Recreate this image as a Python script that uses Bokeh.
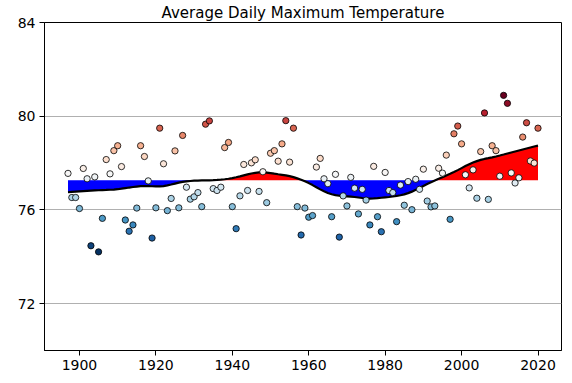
import numpy as np
from bokeh.plotting import figure
from bokeh.models import FixedTicker, ColumnDataSource
from bokeh.transform import linear_cmap
from bokeh.embed import file_html
from bokeh.resources import INLINE

title_text = "Average Daily Maximum Temperature"
years = list(range(1897, 2021))
temps = [
    77.56, 76.53, 76.53, 76.06, 77.77, 77.33, 74.47, 77.41, 74.21, 75.64,   # 1897-1906
    78.15, 77.54, 78.53, 78.74, 77.85, 75.57, 75.09, 75.36, 76.08, 78.74,   # 1907-1916
    78.28, 77.24, 74.80, 76.09, 79.49, 77.97, 75.97, 76.49, 78.52, 76.09,   # 1917-1926
    79.18, 76.97, 76.46, 76.56, 76.74, 76.14, 79.66, 79.80, 76.91, 76.83,   # 1927-1936
    76.97, 78.66, 78.88, 76.14, 75.20, 76.60, 77.94, 76.83, 78.01, 78.14,   # 1937-1946
    76.79, 77.63, 76.31, 78.42, 78.53, 78.08, 78.82, 79.81, 78.04, 79.49,   # 1947-1956
    76.14, 74.93, 76.08, 75.69, 75.76, 77.83, 78.20, 77.33, 77.12, 75.71,   # 1957-1966
    77.52, 74.84, 76.60, 76.17, 77.39, 76.93, 75.83, 76.88, 76.42, 75.36,   # 1967-1976
    77.86, 75.71, 75.07, 77.60, 76.83, 76.74, 75.50, 77.06, 76.20, 77.21,   # 1977-1986
    76.01, 77.31, 76.88, 77.74, 76.38, 76.13, 76.17, 77.78, 77.57, 78.34,   # 1987-1996
    75.60, 79.25, 79.58, 78.82, 77.50, 76.94, 77.71, 76.50, 78.49, 80.14,   # 1997-2006
    76.45, 78.74, 78.53, 77.44, 80.89, 80.55, 77.58, 77.15, 77.37, 79.11,   # 2007-2016
    79.72, 78.09, 78.00, 79.49,                                             # 2017-2020
]
x_ticks = [1900, 1920, 1940, 1960, 1980, 2000, 2020]
y_ticks = [72, 76, 80, 84]
assert len(years) == len(temps)

# RdBu (ColorBrewer) stops, reversed so low = blue
rdbu = ["#67001f", "#b2182b", "#d6604d", "#f4a582", "#fddbc7", "#f7f7f7",
        "#d1e5f0", "#92c5de", "#4393c3", "#2166ac", "#053061"]
stops = np.array([[int(c[i:i + 2], 16) for i in (1, 3, 5)] for c in rdbu[::-1]], float)
t = np.linspace(0, 1, 256)
pos = np.linspace(0, 1, len(stops))
palette = ["#%02x%02x%02x" % tuple(int(round(np.interp(tt, pos, stops[:, k]))) for k in range(3)) for tt in t]


def lowess(x, y, frac=0.25, it=3):
    n = len(x)
    k = int(np.ceil(frac * n))
    d = np.abs(x[:, None] - x[None, :])
    h = np.sort(d, axis=1)[:, k - 1]
    w = np.clip(d / h[:, None], 0, 1)
    w = (1 - w ** 3) ** 3
    delta = np.ones(n)
    yest = np.zeros(n)
    for _ in range(it + 1):
        for i in range(n):
            ww = w[i] * delta
            sw = ww.sum()
            mx = (ww * x).sum() / sw
            my = (ww * y).sum() / sw
            b = (ww * (x - mx) * (y - my)).sum() / (ww * (x - mx) ** 2).sum()
            yest[i] = my + b * (x[i] - mx)
        res = y - yest
        s = np.median(np.abs(res))
        dd = np.clip(res / (6 * s), -1, 1)
        delta = (1 - dd ** 2) ** 2
    return yest


xa = np.array(years, float)
ya = np.array(temps, float)
smooth = lowess(xa, ya, 0.24, 3)
mean = ya.mean()

src = ColumnDataSource(dict(x=xa, y=ya))
fill_src = ColumnDataSource(dict(
    x=xa, s=smooth, m=np.full_like(xa, mean),
    hi=np.maximum(smooth, mean), lo=np.minimum(smooth, mean)))

FONT = "DejaVu Sans"
p = figure(width=564, height=375, x_range=(1890.85, 2026.15), y_range=(70, 84),
           output_backend="svg", toolbar_location=None, title=title_text,
           min_border_left=44, min_border_right=3, min_border_top=0, min_border_bottom=25)
p.title.text_font = FONT
p.title.text_font_size = "15px"
p.title.text_font_style = "normal"
p.title.text_color = "black"
p.title.align = "center"
p.title.standoff = 2
p.title.offset = 0
p.background_fill_color = "white"
p.border_fill_color = "white"
p.outline_line_color = "black"
p.outline_line_width = 1

p.varea(x="x", y1="m", y2="hi", source=fill_src, fill_color="#ff0000")
p.varea(x="x", y1="lo", y2="m", source=fill_src, fill_color="#0000ff")
p.line(x="x", y="s", source=fill_src, line_color="black", line_width=2.2)
p.scatter(x="x", y="y", source=src, size=6.3, line_color="black", line_width=0.8,
          fill_color=linear_cmap("y", palette, float(ya.min()), float(ya.max())))

p.xaxis.ticker = FixedTicker(ticks=x_ticks)
p.yaxis.ticker = FixedTicker(ticks=y_ticks)
for ax in (p.xaxis, p.yaxis):
    ax.axis_line_color = "black"
    ax.major_tick_line_color = "black"
    ax.major_tick_out = 5
    ax.major_tick_in = 0
    ax.minor_tick_line_color = None
    ax.major_label_text_font = FONT
    ax.major_label_text_font_size = "14px"
    ax.major_label_text_color = "black"
    ax.major_label_standoff = 4
p.xgrid.grid_line_color = None
p.ygrid.grid_line_color = "#b0b0b0"
p.ygrid.grid_line_width = 1

open("out.html", "w").write(file_html(p, INLINE))
